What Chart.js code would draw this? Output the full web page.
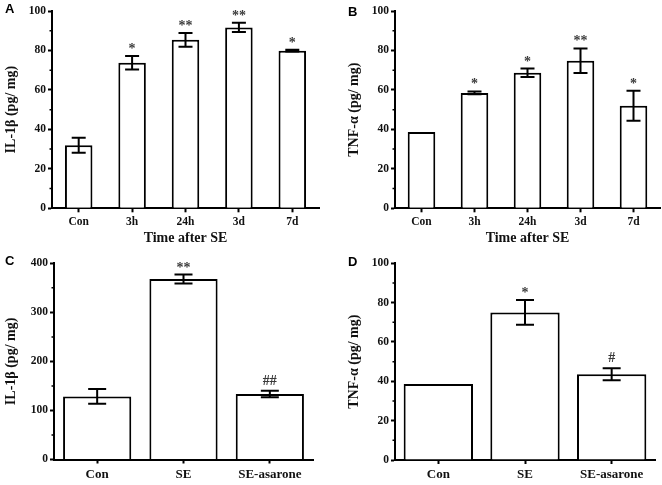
<!DOCTYPE html>
<html>
<head>
<meta charset="utf-8">
<script src="https://cdn.jsdelivr.net/npm/chart.js@4.4.1/dist/chart.umd.min.js"></script>
<style>
  body { margin: 0; background: #fff; }
  #wrap { position: relative; width: 662px; height: 485px; }
  canvas { position: absolute; }
</style>
</head>
<body>
<div id="wrap">
  <canvas id="chartA" width="331" height="250" style="left:0;top:0"></canvas>
  <canvas id="chartB" width="331" height="250" style="left:331px;top:0"></canvas>
  <canvas id="chartC" width="331" height="235" style="left:0;top:250px"></canvas>
  <canvas id="chartD" width="331" height="235" style="left:331px;top:250px"></canvas>
</div>
<script>
// === Data ===
const timeLabels = ["Con", "3h", "24h", "3d", "7d"];
const groupLabels = ["Con", "SE", "SE-asarone"];

const il1bTime = [32, 73.8, 85.4, 91.7, 79.9];
const il1bTimeErr = [3.8, 3.4, 3.5, 2.3, 0.4];
const il1bTimeSig = ["", "*", "**", "**", "*"];

const tnfTime = [38.7, 58.5, 68.7, 74.8, 52];
const tnfTimeErr = [0, 0.7, 2.1, 6.2, 7.6];
const tnfTimeSig = ["", "*", "*", "**", "*"];

const il1bGroup = [128.5, 368, 133.5];
const il1bGroupErr = [15, 9, 6.5];
const il1bGroupSig = ["", "**", "##"];

const tnfGroup = [38.6, 75, 43.6];
const tnfGroupErr = [0, 6.3, 3];
const tnfGroupSig = ["", "*", "#"];

const SERIF = '"Liberation Serif", "Times New Roman", serif';
Chart.defaults.font.family = SERIF;

// error bars, significance marks, minor ticks and panel letter
const extras = {
  id: "extras",
  afterDatasetsDraw(chart, args, o) {
    const { ctx, chartArea } = chart;
    const y = chart.scales.y;
    const bars = chart.getDatasetMeta(0).data;
    ctx.save();
    ctx.strokeStyle = "#000";
    ctx.lineWidth = 2;
    bars.forEach((bar, i) => {
      const v = o.values[i], e = o.errors[i];
      const cx = bar.x;
      const top = y.getPixelForValue(v + e);
      const bot = y.getPixelForValue(v - e);
      if (e > 0) {
        ctx.beginPath();
        ctx.moveTo(cx, top); ctx.lineTo(cx, bot);
        ctx.moveTo(cx - o.cap / 2, top); ctx.lineTo(cx + o.cap / 2, top);
        ctx.moveTo(cx - o.cap / 2, bot); ctx.lineTo(cx + o.cap / 2, bot);
        ctx.stroke();
      }
      const mark = o.marks[i];
      if (mark) {
        ctx.fillStyle = "#3a3a3a";
        ctx.font = "bold " + o.markSize + "px " + SERIF;
        ctx.textAlign = "center";
        ctx.textBaseline = "alphabetic";
        const gap = mark.startsWith("#") ? 6 : 3;
        ctx.fillText(mark, cx, Math.min(top, y.getPixelForValue(v)) - gap);
      }
    });
    // minor ticks on y axis
    const ticks = y.ticks;
    ctx.lineWidth = 1.5;
    ctx.beginPath();
    for (let k = 0; k < ticks.length - 1; k++) {
      const py = y.getPixelForValue((ticks[k].value + ticks[k + 1].value) / 2);
      ctx.moveTo(chartArea.left - 2.5, py);
      ctx.lineTo(chartArea.left, py);
    }
    ctx.stroke();
    // panel letter
    ctx.fillStyle = "#000";
    ctx.font = 'bold 13px "Liberation Sans", Arial, sans-serif';
    ctx.textAlign = "left";
    ctx.textBaseline = "middle";
    ctx.fillText(o.letter, o.letterX, o.letterY);
    ctx.restore();
  }
};

function makePanel(id, p) {
  const axisStyle = { color: "#000", width: 2 };
  return new Chart(document.getElementById(id), {
    type: "bar",
    data: {
      labels: p.labels,
      datasets: [{
        data: p.values,
        backgroundColor: "#fff",
        borderColor: "#000",
        borderWidth: 2,
        barPercentage: p.barPct,
        categoryPercentage: 1
      }]
    },
    options: {
      responsive: false,
      animation: false,
      layout: { padding: { top: p.padTop, right: p.padRight, bottom: 0, left: 0 } },
      plugins: {
        legend: { display: false },
        tooltip: { enabled: false },
        extras: {
          values: p.values, errors: p.errors, marks: p.marks,
          cap: p.cap, markSize: p.markSize,
          letter: p.letter, letterX: p.letterX, letterY: p.letterY
        }
      },
      scales: {
        x: {
          border: axisStyle,
          grid: { drawOnChartArea: false, offset: false, tickLength: 4, tickWidth: 2, tickColor: "#000" },
          ticks: { color: "#111", font: { size: p.xFont, weight: "bold" }, padding: 3, maxRotation: 0 },
          title: p.xTitle
            ? { display: true, text: p.xTitle, color: "#111", font: { size: 14, weight: "bold" }, padding: 3 }
            : { display: false },
          afterFit: s => { s.height = p.xHeight; }
        },
        y: {
          min: 0,
          max: p.max,
          border: axisStyle,
          grid: { drawOnChartArea: false, tickLength: 4, tickWidth: 2, tickColor: "#000" },
          ticks: { stepSize: p.step, color: "#111", font: { size: 11.5, weight: "bold" }, padding: 2 },
          title: { display: true, text: p.yTitle, color: "#111", font: { size: 14, weight: "bold" }, padding: p.yTitlePad },
          afterFit: s => { s.width = p.yWidth; }
        }
      }
    },
    plugins: [extras]
  });
}

makePanel("chartA", {
  labels: timeLabels, values: il1bTime, errors: il1bTimeErr, marks: il1bTimeSig,
  max: 100, step: 20, yTitle: "IL-1β (pg/ mg)", xTitle: "Time after SE",
  barPct: 0.515, cap: 14, markSize: 14, xFont: 11.5,
  padTop: 11, padRight: 12, yWidth: 52, xHeight: 41.7, yTitlePad: 3,
  letter: "A", letterX: 5, letterY: 9
});

makePanel("chartB", {
  labels: timeLabels, values: tnfTime, errors: tnfTimeErr, marks: tnfTimeSig,
  max: 100, step: 20, yTitle: "TNF-α (pg/ mg)", xTitle: "Time after SE",
  barPct: 0.52, cap: 14, markSize: 14, xFont: 11.5,
  padTop: 11, padRight: 2, yWidth: 64, xHeight: 41.7, yTitlePad: 15,
  letter: "B", letterX: 17, letterY: 12
});

makePanel("chartC", {
  labels: groupLabels, values: il1bGroup, errors: il1bGroupErr, marks: il1bGroupSig,
  max: 400, step: 100, yTitle: "IL-1β (pg/ mg)", xTitle: "",
  barPct: 0.79, cap: 18, markSize: 14, xFont: 13,
  padTop: 13.3, padRight: 18, yWidth: 54, xHeight: 25.5, yTitlePad: 3,
  letter: "C", letterX: 5, letterY: 11
});

makePanel("chartD", {
  labels: groupLabels, values: tnfGroup, errors: tnfGroupErr, marks: tnfGroupSig,
  max: 100, step: 20, yTitle: "TNF-α (pg/ mg)", xTitle: "",
  barPct: 0.8, cap: 18, markSize: 14, xFont: 13,
  padTop: 13.3, padRight: 7, yWidth: 64, xHeight: 25, yTitlePad: 15,
  letter: "D", letterX: 17, letterY: 12
});
</script>
</body>
</html>
